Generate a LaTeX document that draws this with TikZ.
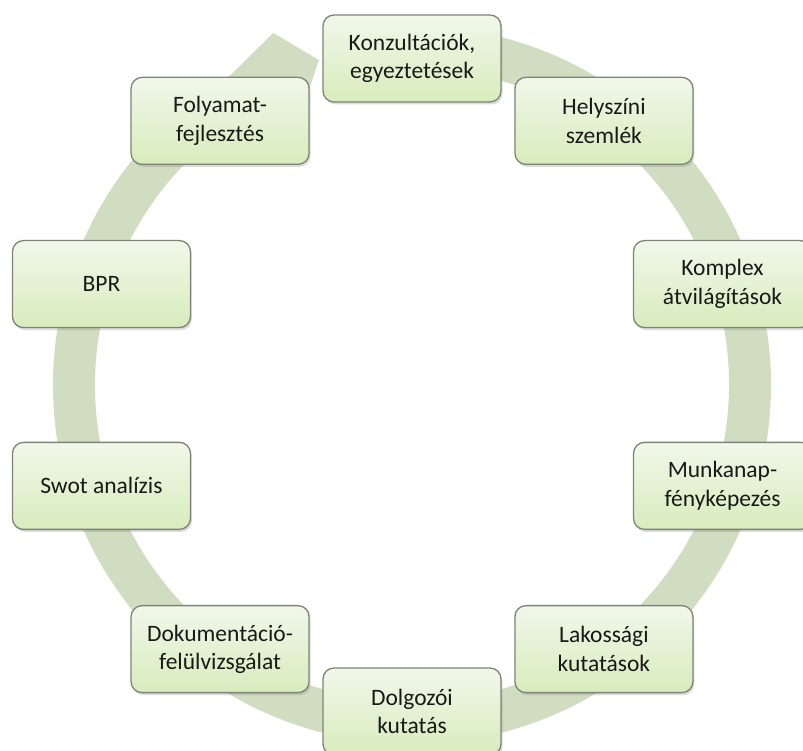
\documentclass[tikz,border=0pt]{standalone}
\usepackage{fontspec}
\setmainfont{Carlito}
\usetikzlibrary{shadows}
\definecolor{band}{RGB}{208,221,193}
\definecolor{boxtop}{RGB}{241,247,234}
\definecolor{boxbot}{RGB}{216,236,188}
\definecolor{boxline}{RGB}{125,132,118}
\tikzset{
  stagebox/.style={rounded corners=11pt, minimum width=178pt, minimum height=87pt,
    inner sep=2pt, align=center, draw=boxline, line width=1.3pt,
    top color=boxtop, bottom color=boxbot, text=black!90,
    font=\fontsize{23.5}{28.5}\selectfont,
    drop shadow={opacity=0.28, shadow xshift=1.5pt, shadow yshift=-2.5pt}},
  ringband/.style={fill=band, draw=none}
}
\begin{document}
\begin{tikzpicture}[x=1pt,y=1pt]
\useasboundingbox (0,0) rectangle (803,751);
\clip (0,0) rectangle (803,751);
\coordinate (C) at (412,366);
% circular arrow
\fill[ringband] ([shift={(90:359)}]C) arc[start angle=90, end angle=-239.6, radius=359]
  -- ([shift={(111.5:378.5)}]C) -- ([shift={(106:338)}]C) -- ([shift={(111.5:297.5)}]C)
  -- ([shift={(-239.6:317)}]C) arc[start angle=-239.6, end angle=90, radius=317] -- cycle;
% stages
\node[stagebox] (n0) at ([shift={(90:326.5)}]C) {Konzultációk,\\egyeztetések};
\node[stagebox] (n1) at ([shift={(54:326.5)}]C) {Helyszíni\\szemlék};
\node[stagebox] (n2) at ([shift={(18:326.5)}]C) {Komplex\\átvilágítások};
\node[stagebox] (n3) at ([shift={(-18:326.5)}]C) {Munkanap-\\fényképezés};
\node[stagebox] (n4) at ([shift={(-54:326.5)}]C) {Lakossági\\kutatások};
\node[stagebox] (n5) at ([shift={(-90:326.5)}]C) {Dolgozói\\kutatás};
\node[stagebox] (n6) at ([shift={(-126:326.5)}]C) {Dokumentáció-\\felülvizsgálat};
\node[stagebox] (n7) at ([shift={(-162:326.5)}]C) {Swot analízis};
\node[stagebox] (n8) at ([shift={(162:326.5)}]C) {BPR};
\node[stagebox] (n9) at ([shift={(126:326.5)}]C) {Folyamat-\\fejlesztés};
\end{tikzpicture}
\end{document}
